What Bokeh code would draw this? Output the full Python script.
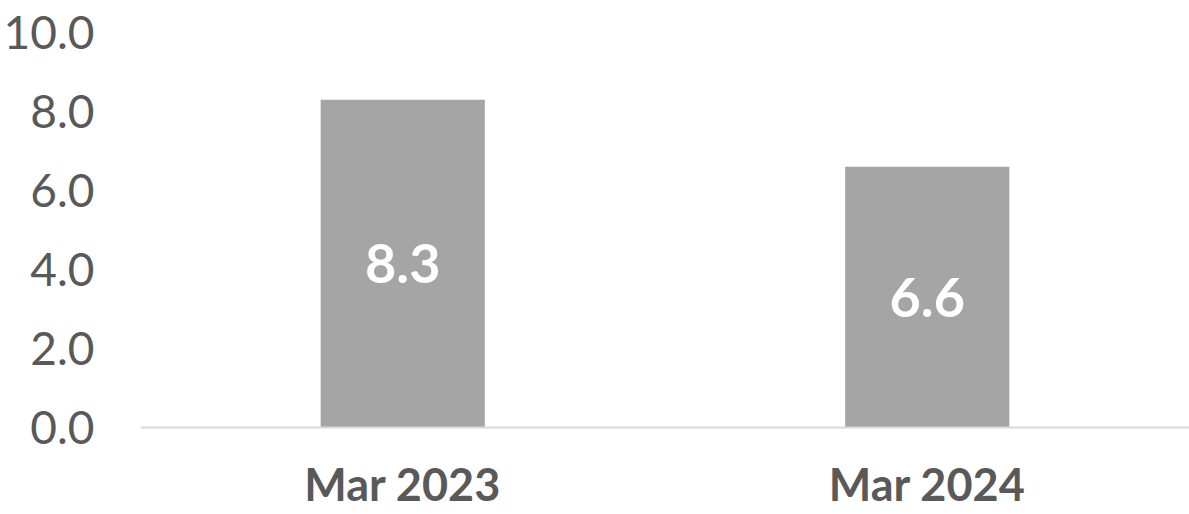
from bokeh.plotting import figure
from bokeh.models import ColumnDataSource, FixedTicker, Range1d, FactorRange, LabelSet, CustomJSTickFormatter, Span
from bokeh.core.properties import value
from bokeh.embed import file_html
from bokeh.resources import INLINE

categories = ["Mar 2023", "Mar 2024"]
values = [8.3, 6.6]
label_texts = ["8.3", "6.6"]
y_ticks = [0, 2, 4, 6, 8, 10]

# layout (pixels): plot area top at 32, zero line at 427, figure bottom 514
H, TOP, ZERO = 514, 32, 427
y_max = 10
y_min = -(H - ZERO) / (ZERO - TOP) * y_max

src = ColumnDataSource(dict(cat=categories, val=values, mid=[v / 2 for v in values],
                            txt=label_texts, base=[0] * len(categories)))

p = figure(width=1189, height=H, x_range=FactorRange(*categories, range_padding=0),
           y_range=Range1d(y_min, y_max), output_backend="svg", toolbar_location=None,
           min_border_left=140, min_border_right=0, min_border_top=TOP, min_border_bottom=0)
p.outline_line_color = None
p.grid.grid_line_color = None
p.background_fill_color = "white"
p.border_fill_color = "white"
p.xaxis.visible = False

p.vbar(x="cat", top="val", width=0.313, source=src, fill_color="#a5a5a5", line_color=None)
p.add_layout(Span(location=0, dimension="width", line_color="#d9d9d9", line_width=2))

labels = LabelSet(x="cat", y="mid", text="txt", source=src, text_align="center", text_baseline="middle",
                  text_color="white", text_font=value("Lato"), text_font_style="bold", text_font_size="54px")
p.add_layout(labels)

cat_labels = LabelSet(x="cat", y="base", text="cat", source=src, text_align="center", text_baseline="middle",
                      y_offset=-56, text_color="#595959", text_font=value("Lato"), text_font_style="bold",
                      text_font_size="45px")
p.add_layout(cat_labels)

p.yaxis.ticker = FixedTicker(ticks=y_ticks)
p.yaxis.formatter = CustomJSTickFormatter(code="return tick.toFixed(1);")
p.yaxis.axis_line_color = None
p.yaxis.major_tick_line_color = None
p.yaxis.minor_tick_line_color = None
p.yaxis.major_label_standoff = 40
p.yaxis.major_label_text_font = "Lato"
p.yaxis.major_label_text_font_size = "46px"
p.yaxis.major_label_text_color = "#595959"

open("out.html", "w").write(file_html(p, INLINE))
